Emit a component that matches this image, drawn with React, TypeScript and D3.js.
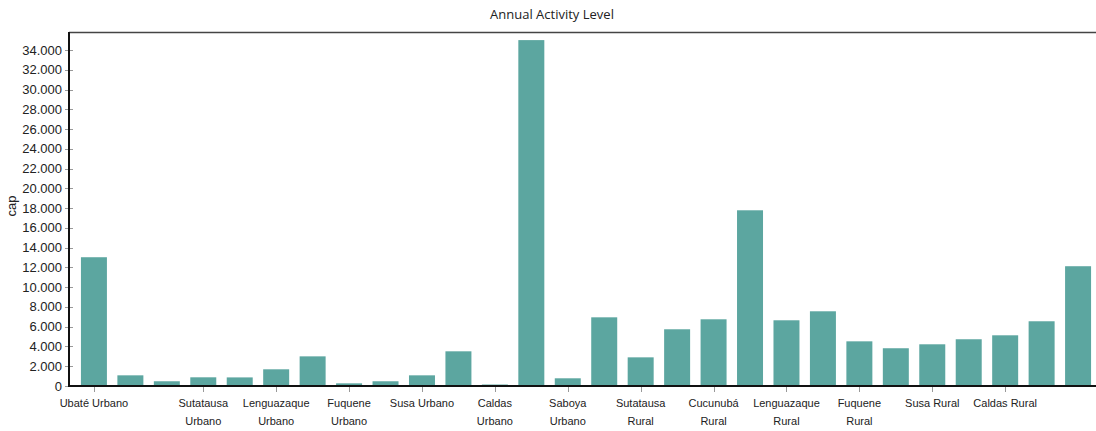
import React, { useEffect, useRef } from "react";
import * as d3 from "d3";

const categories: string[] = [
  "Ubaté Urbano", "Carmen de Carupa Urbano", "Tausa Urbano", "Sutatausa Urbano",
  "Cucunubá Urbano", "Lenguazaque Urbano", "Guachetá Urbano", "Fuquene Urbano",
  "Simijaca Urbano", "Susa Urbano", "San Miguel de Sema Urbano", "Caldas Urbano",
  "Chiquinquirá Urbano", "Saboya Urbano",
  "Ubaté Rural", "Sutatausa Rural", "Tausa Rural", "Cucunubá Rural",
  "Carmen de Carupa Rural", "Lenguazaque Rural", "Guachetá Rural", "Fuquene Rural",
  "Simijaca Rural", "Susa Rural", "San Miguel de Sema Rural", "Caldas Rural",
  "Chiquinquirá Rural", "Saboya Rural",
];

const values: number[] = [
  13030, 1080, 480, 880, 870, 1690, 3000, 270, 480, 1080, 3510, 150, 35000, 780,
  6950, 2900, 5740, 6750, 17780, 6650, 7560, 4520, 3820, 4220, 4730, 5130, 6550, 12120,
];

const shownLabels: string[] = [
  "Ubaté Urbano", "Sutatausa Urbano", "Lenguazaque Urbano", "Fuquene Urbano",
  "Susa Urbano", "Caldas Urbano", "Saboya Urbano", "Sutatausa Rural",
  "Cucunubá Rural", "Lenguazaque Rural", "Fuquene Rural", "Susa Rural", "Caldas Rural",
];

const yTicks: number[] = [0, 2000, 4000, 6000, 8000, 10000, 12000, 14000, 16000, 18000, 20000, 22000, 24000, 26000, 28000, 30000, 32000, 34000];
const yMax = 35820;

const W = 1096;
const H = 431;

export default function App() {
  const ref = useRef<SVGSVGElement | null>(null);

  useEffect(() => {
    const svg = d3.select(ref.current);
    svg.selectAll("*").remove();

    const top = 32;
    const bottom = 386;
    const left = 69;

    const x = d3
      .scaleBand<string>()
      .domain(categories)
      .range([70, 1102])
      .paddingInner(0.287)
      .paddingOuter(0.3);
    const y = d3.scaleLinear().domain([0, yMax]).range([bottom, top]);

    const fmt = (v: number) => d3.format(",")(v).replace(/,/g, ".");

    // title
    svg
      .append("text")
      .attr("x", 552)
      .attr("y", 19)
      .attr("text-anchor", "middle")
      .attr("font-family", "'Open Sans', 'Noto Sans', sans-serif")
      .attr("font-size", 13)
      .attr("fill", "#222")
      .text("Annual Activity Level");

    // top border
    svg
      .append("line")
      .attr("x1", left)
      .attr("x2", W)
      .attr("y1", top + 0.5)
      .attr("y2", top + 0.5)
      .attr("stroke", "#444")
      .attr("stroke-width", 1.5);

    // bars
    svg
      .append("g")
      .selectAll("rect")
      .data(values)
      .join("rect")
      .attr("x", (_d, i) => x(categories[i]) as number)
      .attr("y", (d) => y(d))
      .attr("width", x.bandwidth())
      .attr("height", (d) => bottom - y(d))
      .attr("fill", "#5ca6a0");

    // y ticks
    const yg = svg.append("g");
    yTicks.forEach((t) => {
      yg.append("line")
        .attr("x1", 65)
        .attr("x2", 73)
        .attr("y1", Math.round(y(t)) + 0.5)
        .attr("y2", Math.round(y(t)) + 0.5)
        .attr("stroke", "#999")
        .attr("stroke-width", 1);
      yg.append("text")
        .attr("x", 62)
        .attr("y", y(t))
        .attr("dy", "0.35em")
        .attr("text-anchor", "end")
        .attr("font-family", "'Liberation Sans', Arial, sans-serif")
        .attr("font-size", 13)
        .attr("fill", "#222")
        .text(fmt(t));
    });

    // y axis label
    svg
      .append("text")
      .attr("transform", `translate(16,206) rotate(-90)`)
      .attr("text-anchor", "middle")
      .attr("font-family", "'Liberation Sans', Arial, sans-serif")
      .attr("font-size", 13)
      .attr("fill", "#222")
      .text("cap");

    // x ticks & labels
    const xg = svg.append("g");
    shownLabels.forEach((lab) => {
      const cx = (x(lab) as number) + x.bandwidth() / 2;
      xg.append("line")
        .attr("x1", Math.round(cx) + 0.5)
        .attr("x2", Math.round(cx) + 0.5)
        .attr("y1", bottom)
        .attr("y2", bottom + 6)
        .attr("stroke", "#999")
        .attr("stroke-width", 1);
      const text = xg
        .append("text")
        .attr("x", cx)
        .attr("y", 407)
        .attr("text-anchor", "middle")
        .attr("font-family", "'Liberation Sans', Arial, sans-serif")
        .attr("font-size", 11)
        .attr("fill", "#222");
      const words = lab.split(" ");
      let line: string[] = [];
      let lineNo = 0;
      let tspan = text.append("tspan").attr("x", cx).attr("y", 407);
      words.forEach((w) => {
        line.push(w);
        tspan.text(line.join(" "));
        const node = tspan.node() as SVGTSpanElement;
        if (node.getComputedTextLength() > 71 && line.length > 1) {
          line.pop();
          tspan.text(line.join(" "));
          line = [w];
          lineNo += 1;
          tspan = text
            .append("tspan")
            .attr("x", cx)
            .attr("y", 407 + lineNo * 18)
            .text(w);
        }
      });
    });

    // axes lines
    svg
      .append("line")
      .attr("x1", left)
      .attr("x2", left)
      .attr("y1", top)
      .attr("y2", bottom + 1)
      .attr("stroke", "#111")
      .attr("stroke-width", 2);
    svg
      .append("line")
      .attr("x1", left - 1)
      .attr("x2", W)
      .attr("y1", bottom)
      .attr("y2", bottom)
      .attr("stroke", "#111")
      .attr("stroke-width", 2);
  }, []);

  return (
    <svg
      ref={ref}
      width={W}
      height={H}
      style={{ position: "absolute", left: 0, top: 0, background: "#fff" }}
    />
  );
}
